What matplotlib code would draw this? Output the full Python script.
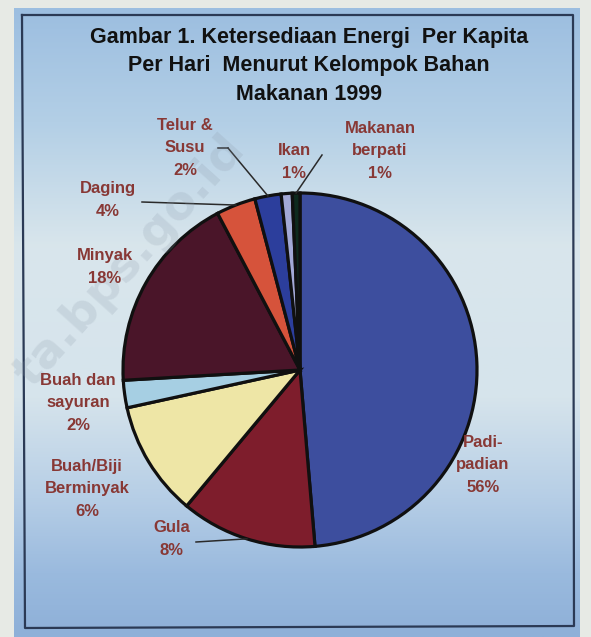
import numpy as np
import matplotlib
matplotlib.use("Agg")
import matplotlib.pyplot as plt
from matplotlib.colors import LinearSegmentedColormap

W, H = 591, 637

# slices in drawing order, clockwise from 12 o'clock
categories = ["Padi-padian", "Gula", "Buah/Biji Berminyak", "Buah dan sayuran",
              "Minyak", "Daging", "Telur & Susu", "Ikan", "Makanan berpati"]
# slice sizes as drawn in the picture (degrees converted to %)
values = [48.6, 12.4, 10.5, 2.5, 18.2, 3.6, 2.4, 1.0, 0.7]
# percentages printed on the labels
pct_labels = ["56%", "8%", "6%", "2%", "18%", "4%", "2%", "1%", "1%"]
label_text = ["Padi-\npadian", "Gula", "Buah/Biji\nBerminyak", "Buah dan\nsayuran",
              "Minyak", "Daging", "Telur &\nSusu", "Ikan", "Makanan\nberpati"]
colors = ["#3D4E9E", "#7E1D2C", "#EEE6A6", "#A6CFE3", "#4A1529",
          "#D6533B", "#2C3E9C", "#A3A9D6", "#0E2A1E"]

# label centres (pixels from top-left)
label_pos = [(483, 465), (172, 539), (87, 489), (78, 403), (105, 267),
             (108, 200), (185, 148), (294, 162), (380, 151)]
# label-side end of leader lines (None = no leader)
leader_start = [None, (196, 542), None, None, None, (142, 202), (228, 148), None, (322, 155)]

CX, CY, R = 300, 370, 177

def P(x, y):
    return x, H - y

fig = plt.figure(figsize=(W / 100, H / 100), dpi=100, facecolor="#E7EAE5")
ax = fig.add_axes([0, 0, 1, 1])

# blue gradient panel
grad = LinearSegmentedColormap.from_list("bg", [
    (0.00, "#9CBEE0"), (0.18, "#B3CFE6"), (0.38, "#D9E6EC"),
    (0.62, "#D6E4EC"), (0.78, "#B6CEE6"), (0.90, "#9ABADE"), (1.00, "#8EB0D8")])
ax.imshow(np.linspace(0, 1, 256).reshape(-1, 1), cmap=grad, aspect="auto",
          extent=(14, 580, H - 637, H - 8), zorder=-3)
ax.plot([22, 573, 574, 25, 22], [H - 15, H - 15, H - 626, H - 628, H - 15],
        color="#2B3A55", lw=1.6, zorder=-1)

# watermark
ax.text(*P(130, 262), "ta.bps.go.id", rotation=48, fontsize=34, fontweight="bold",
        color="#8A98A8", alpha=0.2, ha="center", va="center", zorder=5)

wedges, _ = ax.pie(values, colors=colors, startangle=90, counterclock=False,
                   center=P(CX, CY), radius=R, frame=True,
                   wedgeprops=dict(edgecolor="#101010", linewidth=2.3))
ax.set_xlim(0, W)
ax.set_ylim(0, H)
ax.set_aspect("equal")
ax.axis("off")

# labels and leaders
for w, txt, pct, pos, st in zip(wedges, label_text, pct_labels, label_pos, leader_start):
    ax.text(*P(*pos), txt + "\n" + pct, ha="center", va="center", fontsize=12,
            fontweight="bold", color="#883835", linespacing=1.62, zorder=6,
            family="Liberation Sans")
    if st is not None:
        mid = np.radians((w.theta1 + w.theta2) / 2)
        ex, ey = CX + R * np.cos(mid), H - CY + R * np.sin(mid)
        if txt.startswith("Telur"):
            ax.plot([218, 228], [H - 148, H - 148], color="#2A2A2A", lw=1.1, zorder=4)
        ax.plot([st[0], ex], [H - st[1], ey], color="#2A2A2A", lw=1.1, zorder=4)

title = ("Gambar 1. Ketersediaan Energi  Per Kapita\n"
         "Per Hari  Menurut Kelompok Bahan\nMakanan 1999")
ax.text(*P(309, 66), title, ha="center", va="center", fontsize=15.5, fontweight="bold",
        color="#111111", linespacing=1.45, family="Liberation Sans")

fig.savefig("out.png", dpi=100, facecolor=fig.get_facecolor())
